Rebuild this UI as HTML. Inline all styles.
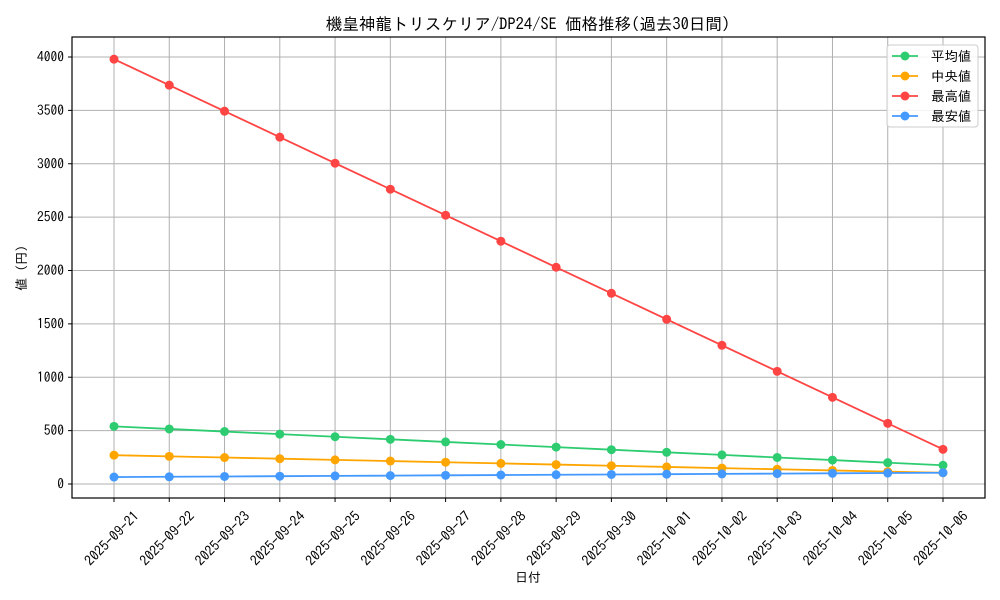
<!DOCTYPE html>
<html><head><meta charset="utf-8"><style>body{margin:0;background:#fff}svg{display:block}text{font-family:"IPAGothic","Liberation Sans","Noto Sans CJK JP",sans-serif;fill:#000}</style></head>
<body>
<svg width="1000" height="600" xmlns="http://www.w3.org/2000/svg">
<rect width="1000" height="600" fill="#fff"/>
<text x="528" y="30" font-size="16.5" text-anchor="middle">機皇神龍トリスケリア/DP24/SE 価格推移(過去30日間)</text>
<g id="grid" stroke="#b0b0b0" stroke-width="1"></g>
<rect x="72" y="37" width="913" height="461" fill="none" stroke="#000" stroke-width="1.2"/>
<g id="yt" font-size="13.5"></g>
<g id="xt" font-size="14"></g>
<text x="528" y="582" font-size="13" text-anchor="middle">日付</text>
<text transform="translate(26,268) rotate(-90)" font-size="13" text-anchor="middle">値 (円)</text>
<g id="series"></g>
<g>
<rect x="887" y="45" width="91" height="82" rx="3" fill="#fff" fill-opacity="0.85" stroke="#ccc"/>
<line x1="892" y1="56" x2="918" y2="56" stroke="#2ecc71" stroke-width="1.8"/><circle cx="905" cy="56" r="4.5" fill="#2ecc71"/><text x="931" y="61" font-size="13.5">平均値</text>
<line x1="892" y1="76" x2="918" y2="76" stroke="#ffa500" stroke-width="1.8"/><circle cx="905" cy="76" r="4.5" fill="#ffa500"/><text x="931" y="81" font-size="13.5"> 中央値</text>
<line x1="892" y1="96" x2="918" y2="96" stroke="#ff4444" stroke-width="1.8"/><circle cx="905" cy="96" r="4.5" fill="#ff4444"/><text x="931" y="101" font-size="13.5">最高値</text>
<line x1="892" y1="116" x2="918" y2="116" stroke="#4499ff" stroke-width="1.8"/><circle cx="905" cy="116" r="4.5" fill="#4499ff"/><text x="931" y="121" font-size="13.5">最安値</text>
</g>
</svg>
<script>
const NS="http://www.w3.org/2000/svg";
function el(p,t,a,txt){const e=document.createElementNS(NS,t);for(const k in a)e.setAttribute(k,a[k]);if(txt!==undefined)e.textContent=txt;document.getElementById(p).appendChild(e);return e;}
const X=i=>114+i*(943-114)/15, Y=v=>484-v*0.10675;
for(let v=0;v<=4000;v+=500){const y=Y(v);el("grid","line",{x1:72,x2:985,y1:y,y2:y});el("yt","line",{x1:68,x2:72,y1:y,y2:y,stroke:"#000"});el("yt","text",{x:64,y:y+4.5,"text-anchor":"end"},v);}
const d=["09-21","09-22","09-23","09-24","09-25","09-26","09-27","09-28","09-29","09-30","10-01","10-02","10-03","10-04","10-05","10-06"];
d.forEach((s,i)=>{const x=X(i);el("grid","line",{x1:x,x2:x,y1:37,y2:498});el("xt","line",{x1:x,x2:x,y1:498,y2:502,stroke:"#000"});el("xt","text",{x:x+26,y:517,"text-anchor":"end",transform:`rotate(-45 ${x+26} 517)`},"2025-"+s);});
const S=[["#2ecc71",i=>540-i*24.3],["#ffa500",i=>270-i*11],["#ff4444",i=>3980-i*243.7],["#4499ff",i=>65+i*2.7]];
S.forEach(([c,f])=>{let p=d.map((_,i)=>X(i)+","+Y(f(i))).join(" ");el("series","polyline",{points:p,fill:"none",stroke:c,"stroke-width":1.8});d.forEach((_,i)=>el("series","circle",{cx:X(i),cy:Y(f(i)),r:4.5,fill:c}));});
</script>
</body></html>
